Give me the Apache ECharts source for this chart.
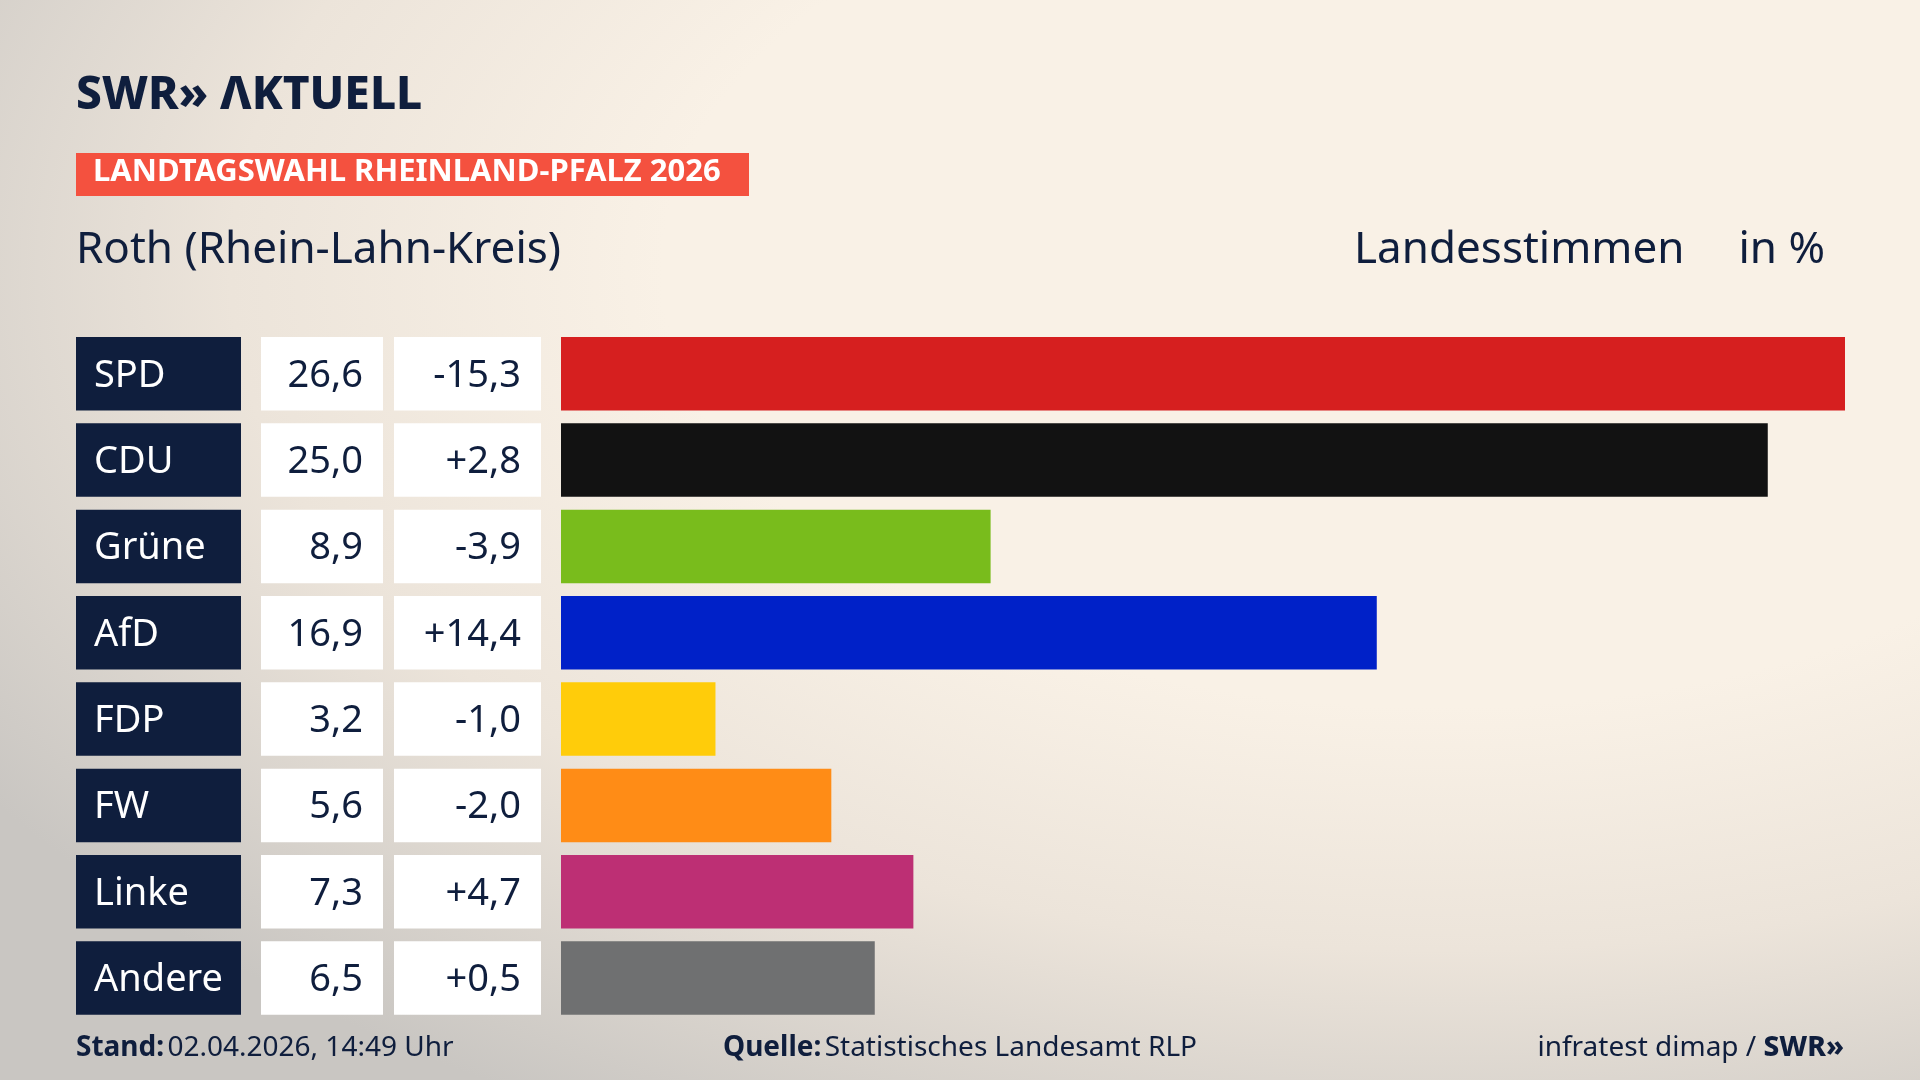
<!DOCTYPE html>
<html><head><meta charset="utf-8">
<script src="https://cdn.jsdelivr.net/npm/echarts@6/dist/echarts.min.js"></script>
<style>html,body{margin:0;padding:0}#c{width:1920px;height:1080px;background:radial-gradient(ellipse 90% 90% at 75% 25%,#f9f1e6 45%,#ece4da 70%,#c9c6c2 100%);}</style>
</head><body><div id="c"></div>
<script>
const parties=["SPD","CDU","Grüne","AfD","FDP","FW","Linke","Andere"];
const values=[26.6,25.0,8.9,16.9,3.2,5.6,7.3,6.5];
const diffs=["-15,3","+2,8","-3,9","+14,4","-1,0","-2,0","+4,7","+0,5"];
const colors=["#d61f1f","#121212","#79bc1c","#0021c8","#ffcc0a","#ff8c16","#bd2f74","#6f7071"];
const fmt=v=>v.toFixed(1).replace('.',',');
const F='"Noto Sans", sans-serif';
const chart=echarts.init(document.getElementById('c'));
chart.setOption({
 textStyle:{fontFamily:F},
 graphic:[
  {type:'text',left:76,top:73,style:{text:'SWR» ΛKTUELL',font:'800 46px '+F,fill:'#0f1e3d'}},
  {type:'rect',left:76,top:153,shape:{width:673,height:43},style:{fill:'#f4513f'}},
  {type:'text',left:93,top:157,style:{text:'LANDTAGSWAHL RHEINLAND-PFALZ 2026',font:'bold 31px '+F,fill:'#fff'}},
  {type:'text',left:76,top:228,style:{text:'Roth (Rhein-Lahn-Kreis)',font:'44px '+F,fill:'#0f1e3d'}},
  {type:'text',left:1354,top:228,style:{text:'Landesstimmen',font:'44px '+F,fill:'#0f1e3d'}},
  {type:'text',right:95,top:228,style:{text:'in %',font:'44px '+F,fill:'#0f1e3d',align:'right'}},
  {type:'text',left:76,top:1034,style:{rich:{b:{font:'bold 28px '+F,fill:'#0f1e3d'},n:{font:'28px '+F,fill:'#0f1e3d'}},text:'{b|Stand:} {n|02.04.2026, 14:49 Uhr}'}},
  {type:'text',left:723,top:1034,style:{rich:{b:{font:'bold 28px '+F,fill:'#0f1e3d'},n:{font:'28px '+F,fill:'#0f1e3d'}},text:'{b|Quelle:} {n|Statistisches Landesamt RLP}'}},
  {type:'text',right:76,top:1034,style:{rich:{n:{font:'28px '+F,fill:'#0f1e3d'},b:{font:'800 28px '+F,fill:'#0f1e3d'}},text:'{n|infratest dimap / }{b|SWR»}'}}
 ],
 grid:{left:561,width:1284,top:330.6,height:690.6},
 xAxis:{type:'value',min:0,max:26.6,show:false},
 yAxis:{type:'category',inverse:true,data:parties,axisLine:{show:false},axisTick:{show:false},
  axisLabel:{margin:20,formatter:(v,i)=>`{p|${v}}{g1|}{v|${fmt(values[i])}}{g2|}{d|${diffs[i]}}`,
   rich:{
    p:{width:147,height:69.5,padding:[4,0,0,18],backgroundColor:'#0f1e3d',color:'#fff',fontSize:38,fontFamily:F,align:'left'},
    g1:{width:20},
    v:{width:102,height:69.5,padding:[4,20,0,0],backgroundColor:'#fff',color:'#0f1e3d',fontSize:38,fontFamily:F,align:'right'},
    g2:{width:11},
    d:{width:127,height:69.5,padding:[4,20,0,0],backgroundColor:'#fff',color:'#0f1e3d',fontSize:38,fontFamily:F,align:'right'}
   }}},
 series:[{type:'bar',barWidth:73.5,data:values.map((v,i)=>({value:v,itemStyle:{color:colors[i]}})),animation:false}]
});
</script></body></html>
